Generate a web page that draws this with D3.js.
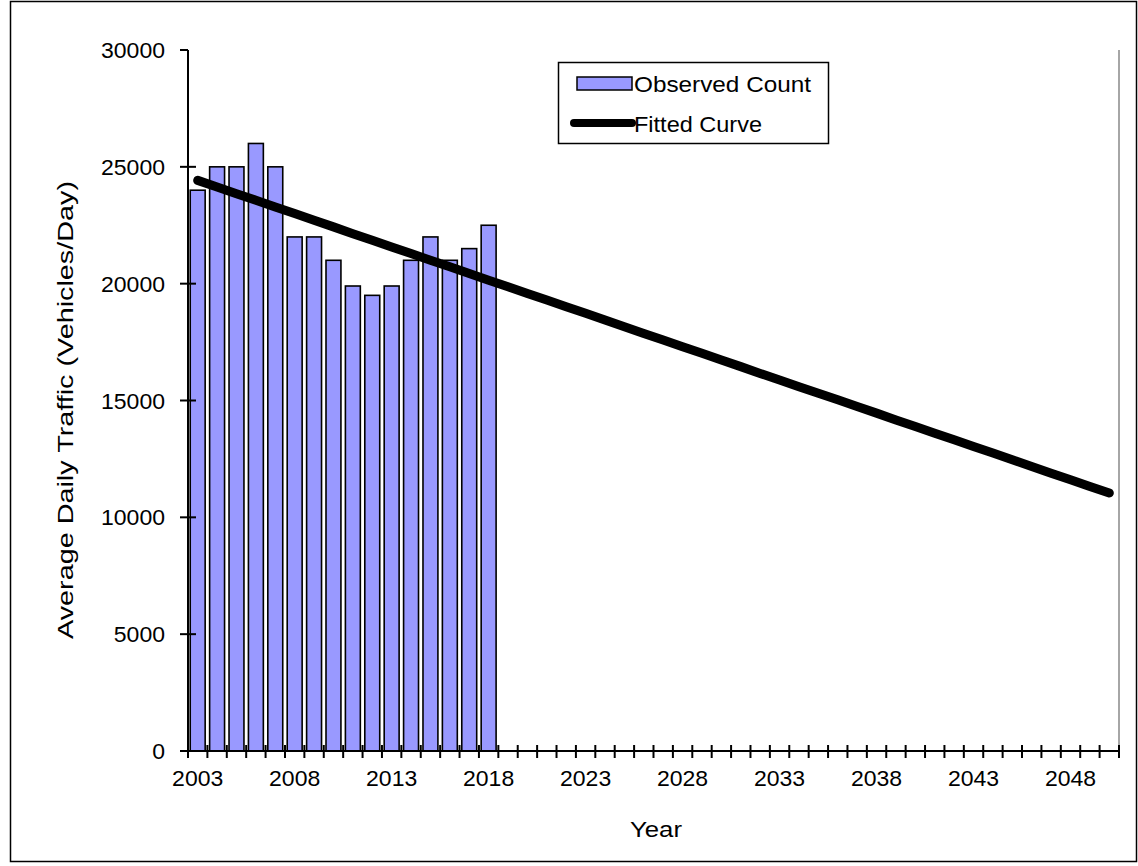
<!DOCTYPE html>
<html>
<head>
<meta charset="utf-8">
<script src="https://cdn.jsdelivr.net/npm/d3@7"></script>
<style>
  html, body { margin: 0; padding: 0; background: #fff; }
  svg { display: block; }
  text { font-family: "Liberation Sans", Arial, sans-serif; fill: #000; }
</style>
</head>
<body>
<svg id="chart" width="1138" height="866"></svg>
<script>
// Observed annual counts
const observedYears = [2003, 2004, 2005, 2006, 2007, 2008, 2009, 2010, 2011, 2012, 2013, 2014, 2015, 2016, 2017, 2018];
const observedCounts = [24000, 25000, 25000, 26000, 25000, 22000, 22000, 21000, 19900, 19500, 19900, 21000, 22000, 21000, 21500, 22500];

// Fitted curve, one value per year 2003-2050
const fittedYears = d3.range(2003, 2051);
const fittedValues = [
  24420, 24140, 23850, 23570, 23280, 23000, 22710, 22430, 22140, 21860,
  21570, 21290, 21000, 20720, 20430, 20150, 19870, 19580, 19300, 19010,
  18730, 18440, 18160, 17870, 17590, 17300, 17020, 16730, 16450, 16160,
  15880, 15590, 15310, 15030, 14740, 14460, 14170, 13890, 13600, 13320,
  13030, 12750, 12460, 12180, 11890, 11610, 11320, 11040
];

const yTicks = [0, 5000, 10000, 15000, 20000, 25000, 30000];
const xTickLabels = [2003, 2008, 2013, 2018, 2023, 2028, 2033, 2038, 2043, 2048];

const svg = d3.select("#chart");
const plot = { left: 188, right: 1119, top: 50, bottom: 751 };
const fontSize = 22;
const digitWidth = 12.8;

// Outer chart frame
svg.append("rect")
  .attr("x", 10.5).attr("y", 1.5)
  .attr("width", 1126).attr("height", 860)
  .attr("fill", "#fff").attr("stroke", "#000").attr("stroke-width", 1.5);

const x = d3.scaleBand()
  .domain(fittedYears)
  .range([plot.left, plot.right])
  .padding(0);

const y = d3.scaleLinear()
  .domain([0, 30000])
  .range([plot.bottom, plot.top]);

// Plot area right edge
svg.append("line")
  .attr("x1", plot.right).attr("x2", plot.right)
  .attr("y1", plot.top).attr("y2", plot.bottom)
  .attr("stroke", "#888").attr("stroke-width", 1.5);

// Bars
const barFrac = 0.77;
svg.append("g").selectAll("rect")
  .data(observedYears.map((yr, i) => ({ yr, v: observedCounts[i] })))
  .join("rect")
  .attr("x", d => x(d.yr) + x.bandwidth() * (1 - barFrac) / 2)
  .attr("width", x.bandwidth() * barFrac)
  .attr("y", d => y(d.v))
  .attr("height", d => y(0) - y(d.v))
  .attr("fill", "#9999ff")
  .attr("stroke", "#000")
  .attr("stroke-width", 1.6);

// Y axis
const yAxis = svg.append("g");
yAxis.append("line")
  .attr("x1", plot.left).attr("x2", plot.left)
  .attr("y1", plot.top).attr("y2", plot.bottom)
  .attr("stroke", "#000").attr("stroke-width", 2);
yAxis.selectAll("line.tick")
  .data(yTicks)
  .join("line")
  .attr("class", "tick")
  .attr("x1", plot.left - 8).attr("x2", d => d === 30000 ? plot.left : plot.left + 8)
  .attr("y1", d => y(d)).attr("y2", d => y(d))
  .attr("stroke", "#000").attr("stroke-width", 2);
yAxis.selectAll("text")
  .data(yTicks)
  .join("text")
  .attr("x", 165)
  .attr("y", d => y(d) + 8)
  .attr("text-anchor", "end")
  .attr("font-size", fontSize)
  .attr("textLength", d => String(d).length * digitWidth)
  .attr("lengthAdjust", "spacingAndGlyphs")
  .text(d => d);

// X axis
const xAxis = svg.append("g");
xAxis.append("line")
  .attr("x1", plot.left).attr("x2", plot.right)
  .attr("y1", plot.bottom).attr("y2", plot.bottom)
  .attr("stroke", "#000").attr("stroke-width", 2);
const boundaries = fittedYears.map(yr => x(yr)).concat([x.range()[1]]);
xAxis.selectAll("line.tick")
  .data(boundaries)
  .join("line")
  .attr("class", "tick")
  .attr("x1", d => d).attr("x2", d => d)
  .attr("y1", plot.bottom - 6).attr("y2", plot.bottom + 7)
  .attr("stroke", "#000").attr("stroke-width", 2);
xAxis.selectAll("text")
  .data(xTickLabels)
  .join("text")
  .attr("x", d => x(d) + x.bandwidth() / 2)
  .attr("y", 786)
  .attr("text-anchor", "middle")
  .attr("font-size", fontSize)
  .attr("textLength", d => String(d).length * digitWidth)
  .attr("lengthAdjust", "spacingAndGlyphs")
  .text(d => d);

// Fitted curve
const line = d3.line()
  .x((d, i) => x(fittedYears[i]) + x.bandwidth() / 2)
  .y(d => y(d));
svg.append("path")
  .datum(fittedValues)
  .attr("d", line)
  .attr("fill", "none")
  .attr("stroke", "#000")
  .attr("stroke-width", 9)
  .attr("stroke-linejoin", "round")
  .attr("stroke-linecap", "round");

// Axis titles
svg.append("text")
  .attr("x", 656).attr("y", 837)
  .attr("text-anchor", "middle")
  .attr("font-size", fontSize)
  .attr("textLength", 52)
  .attr("lengthAdjust", "spacingAndGlyphs")
  .text("Year");

svg.append("text")
  .attr("transform", "translate(73,410) rotate(-90)")
  .attr("text-anchor", "middle")
  .attr("font-size", fontSize)
  .attr("textLength", 458)
  .attr("lengthAdjust", "spacingAndGlyphs")
  .text("Average Daily Traffic (Vehicles/Day)");

// Legend
const legend = svg.append("g");
legend.append("rect")
  .attr("x", 558.5).attr("y", 62.5)
  .attr("width", 270).attr("height", 81)
  .attr("fill", "#fff").attr("stroke", "#000").attr("stroke-width", 1.5);
legend.append("rect")
  .attr("x", 577).attr("y", 77)
  .attr("width", 55).attr("height", 13)
  .attr("fill", "#9999ff").attr("stroke", "#000").attr("stroke-width", 1.5);
legend.append("text")
  .attr("x", 634).attr("y", 92)
  .attr("font-size", fontSize)
  .attr("textLength", 177)
  .attr("lengthAdjust", "spacingAndGlyphs")
  .text("Observed Count");
legend.append("line")
  .attr("x1", 574).attr("x2", 632)
  .attr("y1", 123).attr("y2", 123)
  .attr("stroke", "#000").attr("stroke-width", 8)
  .attr("stroke-linecap", "round");
legend.append("text")
  .attr("x", 634).attr("y", 132)
  .attr("font-size", fontSize)
  .attr("textLength", 128)
  .attr("lengthAdjust", "spacingAndGlyphs")
  .text("Fitted Curve");
</script>
</body>
</html>
